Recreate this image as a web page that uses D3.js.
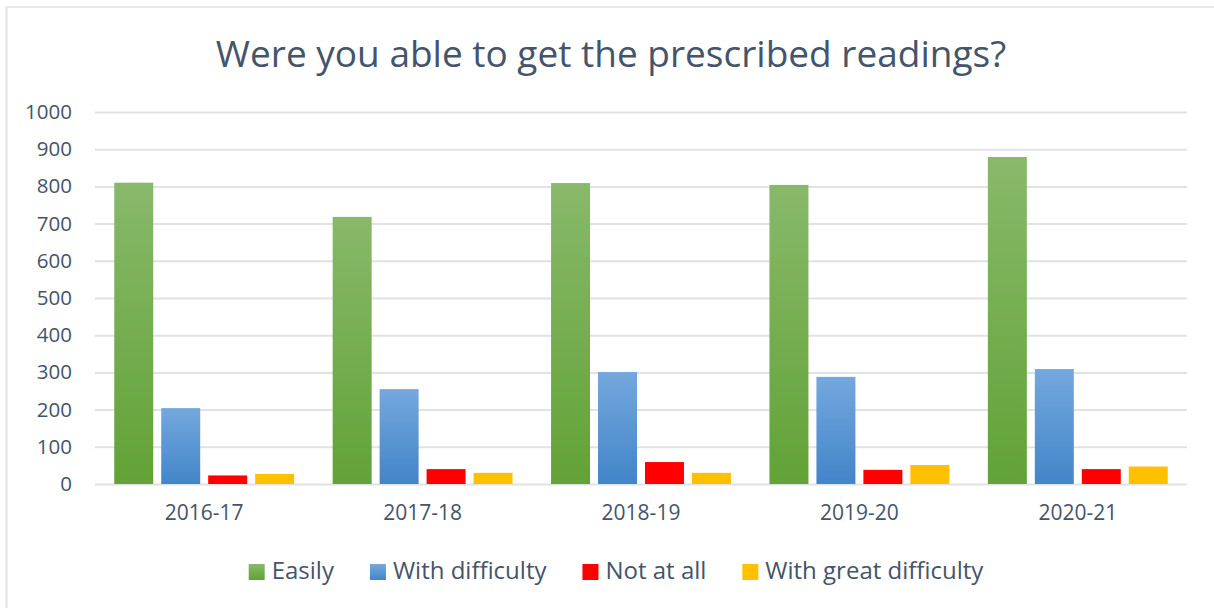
<!DOCTYPE html>
<html lang="en">
<head>
    <meta charset="UTF-8">
    <title>Were you able to get the prescribed readings?</title>
    <script src="https://d3js.org/d3.v7.min.js"></script>
    <style>
        body {
            margin: 0;
            background: #fff;
            font-family: "Open Sans", sans-serif;
        }
        .grid line {
            stroke: #dfe2e7;
            stroke-width: 2;
        }
        .axis text {
            fill: #44546a;
        }
    </style>
</head>
<body>

<svg id="chart" width="1214" height="608"></svg>

<script>
    const years = ["2016-17", "2017-18", "2018-19", "2019-20", "2020-21"];
    const seriesNames = ["Easily", "With difficulty", "Not at all", "With great difficulty"];
    const easily = [810, 718, 809, 804, 879];
    const withDifficulty = [204, 255, 301, 288, 309];
    const notAtAll = [23, 40, 59, 38, 40];
    const withGreatDifficulty = [27, 30, 30, 51, 47];
    const yTicks = [0, 100, 200, 300, 400, 500, 600, 700, 800, 900, 1000];

    const seriesValues = [easily, withDifficulty, notAtAll, withGreatDifficulty];
    const colors = ["url(#gGreen)", "url(#gBlue)", "#ff0000", "#ffc000"];

    const svg = d3.select("#chart");

    // gradients for the two big series
    const defs = svg.append("defs");
    function grad(id, top, bottom) {
        const g = defs.append("linearGradient").attr("id", id)
            .attr("x1", 0).attr("y1", 0).attr("x2", 0).attr("y2", 1);
        g.append("stop").attr("offset", "0%").attr("stop-color", top);
        g.append("stop").attr("offset", "100%").attr("stop-color", bottom);
    }
    grad("gGreen", "#88b96a", "#62a236");
    grad("gBlue", "#74a8de", "#4285c8");

    // outer frame
    svg.append("line").attr("x1", 6).attr("x2", 1214).attr("y1", 7).attr("y2", 7)
        .attr("stroke", "#dfe2e5").attr("stroke-width", 1.5);
    svg.append("line").attr("x1", 6.5).attr("x2", 6.5).attr("y1", 7).attr("y2", 608)
        .attr("stroke", "#dfe2e7").attr("stroke-width", 2);

    const margin = { top: 112, left: 95, right: 27, bottom: 124 };
    const width = 1214 - margin.left - margin.right;
    const height = 608 - margin.top - margin.bottom;

    const g = svg.append("g").attr("transform", `translate(${margin.left},${margin.top})`);

    const x0 = d3.scaleBand().domain(years).range([0, width]).padding(0);
    const x1 = d3.scaleBand().domain(seriesNames).range([0, x0.bandwidth()])
        .paddingInner(0.17).paddingOuter(0.41);
    const y = d3.scaleLinear().domain([0, 1000]).range([height, 0]);

    // gridlines
    g.append("g").attr("class", "grid")
        .call(d3.axisLeft(y).tickValues(yTicks).tickSize(-width).tickFormat(""))
        .call(s => s.select(".domain").remove());

    // y axis labels
    g.append("g").attr("class", "axis")
        .call(d3.axisLeft(y).tickValues(yTicks).tickSize(0).tickPadding(23).tickFormat(d3.format("d")))
        .call(s => s.select(".domain").remove())
        .selectAll("text")
        .attr("font-family", "'Open Sans', sans-serif")
        .attr("font-size", "20.5px");

    // x axis labels
    g.append("g").attr("class", "axis")
        .attr("transform", `translate(0,${height})`)
        .call(d3.axisBottom(x0).tickSize(0).tickPadding(21))
        .call(s => s.select(".domain").remove())
        .selectAll("text")
        .attr("font-family", "'Open Sans', sans-serif")
        .attr("font-size", "21px");

    // bars
    seriesNames.forEach((name, i) => {
        g.append("g").selectAll("rect")
            .data(seriesValues[i])
            .join("rect")
            .attr("x", (d, j) => x0(years[j]) + x1(name))
            .attr("y", d => y(d))
            .attr("width", x1.bandwidth())
            .attr("height", d => height - y(d))
            .attr("fill", colors[i]);
    });

    // title
    svg.append("text")
        .attr("x", 611)
        .attr("y", 67)
        .attr("text-anchor", "middle")
        .attr("font-size", "37px")
        .attr("fill", "#44546a")
        .text("Were you able to get the prescribed readings?");

    // legend
    const legend = svg.append("g");
    let lx = 0;
    seriesNames.forEach((name, i) => {
        const item = legend.append("g").attr("transform", `translate(${lx},0)`);
        item.append("rect").attr("x", 0).attr("y", -15).attr("width", 16).attr("height", 16)
            .attr("fill", colors[i]);
        const t = item.append("text").attr("x", 23).attr("y", 0)
            .attr("font-size", "24px").attr("fill", "#44546a").text(name);
        lx += 23 + t.node().getComputedTextLength() + 36;
    });
    lx -= 36;
    legend.attr("transform", `translate(${616 - lx / 2},579)`);
</script>

</body>
</html>
